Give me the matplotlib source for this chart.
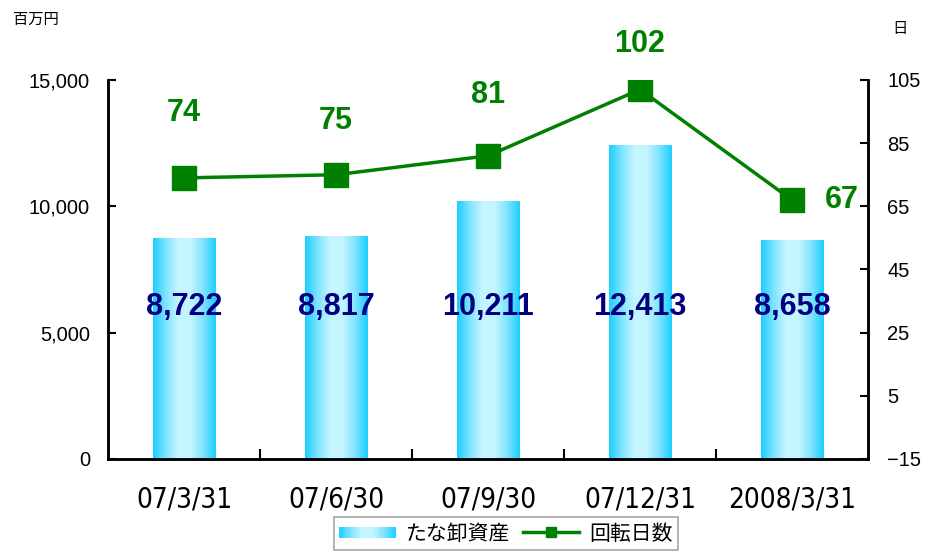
import numpy as np
import matplotlib
matplotlib.use('Agg')
import matplotlib.pyplot as plt
from matplotlib.legend_handler import HandlerPatch
from matplotlib.patches import Rectangle
from matplotlib.colors import LinearSegmentedColormap

plt.rcParams['font.family'] = ['Liberation Sans', 'Noto Sans CJK JP', 'DejaVu Sans']

# data
dates = ['07/3/31', '07/6/30', '07/9/30', '07/12/31', '2008/3/31']
inventory = [8722, 8817, 10211, 12413, 8658]      # 百万円
turnover_days = [74, 75, 81, 102, 67]               # 日
inv_label_y = 6000
# offset of the green labels (points): dx, dy
day_label_off = [(0, 47), (0, 39), (0, 44), (0, 33), (36, 0)]

jp = ['Noto Sans CJK JP', 'DejaVu Sans']
green = '#008000'
navy = '#000080'

grad = LinearSegmentedColormap.from_list('barg', ['#1ccfff', '#7fe3ff', '#c4f5ff', '#c4f5ff', '#7fe3ff', '#1ccfff'])


class GradHandler(HandlerPatch):
    def create_artists(self, legend, orig_handle, xdescent, ydescent, width, height, fontsize, trans):
        arts = []
        n = 24
        for i in range(n):
            c = grad((i + 0.5) / n)
            r = Rectangle((-xdescent + width * i / n, -ydescent + height * 0.1), width / n + 0.3, height * 0.8,
                          facecolor=c, edgecolor='none', transform=trans)
            arts.append(r)
        return arts


fig = plt.figure(figsize=(9.26, 5.54), dpi=100)
ax = fig.add_axes([0.1166, 0.1715, 0.8208, 0.6841])
ax2 = ax.twinx()

x = np.arange(len(dates))
bars = ax.bar(x, inventory, width=0.41, color='none', edgecolor='none', label='たな卸資産')
g = np.linspace(0, 1, 200).reshape(1, -1)
for b in bars:
    x0, w, h = b.get_x(), b.get_width(), b.get_height()
    ax.imshow(g, cmap=grad, extent=(x0, x0 + w, 0, h), aspect='auto', zorder=2)

for xi, v in zip(x, inventory):
    ax.text(xi, inv_label_y, f'{v:,}', ha='center', va='center', fontsize=22,
            fontweight='bold', color=navy, zorder=5)

ax.set_xlim(-0.5, 4.5)
ax.set_ylim(0, 15000)
ax.set_yticks([0, 5000, 10000, 15000])
ax.set_yticklabels([f'{t:,}' for t in [0, 5000, 10000, 15000]])
ax.set_xticks(x)
ax.set_xticklabels(dates, family='DejaVu Sans', stretch='condensed', fontsize=20)
ax.set_xticks(x[:-1] + 0.5, minor=True)
ax.tick_params(axis='x', which='major', length=0, pad=19)
ax.tick_params(axis='x', which='minor', direction='in', length=7, width=1.5)
ax.tick_params(axis='y', direction='in', length=6, width=1.5, labelsize=14.5, pad=13)

ln, = ax2.plot(x, turnover_days, color=green, lw=2.5, marker='s', ms=17, label='回転日数', zorder=4)
for xi, v, (dx, dy) in zip(x, turnover_days, day_label_off):
    ax2.annotate(str(v), (xi, v), xytext=(dx, dy), textcoords='offset points',
                 ha='center', va='center', fontsize=22, fontweight='bold', color=green)
ax2.set_ylim(-15, 105)
ax2.set_yticks(np.arange(-15, 106, 20))
ax2.set_yticklabels([str(t).replace('-', '\u2212') for t in range(-15, 106, 20)])
ax2.tick_params(axis='y', direction='in', length=6, width=1.5, labelsize=14.5, pad=14)

for a in (ax, ax2):
    for s in a.spines.values():
        s.set_linewidth(1.8)
    a.spines['top'].set_visible(False)
ax.set_zorder(1)
ax.patch.set_visible(False)
ax2.set_zorder(2)

fig.text(0.014, 0.965, '百万円', family=jp, fontsize=11, va='center', ha='left')
fig.text(0.964, 0.948, '日', family=jp, fontsize=11, va='center', ha='left')

leg = fig.legend([bars.patches[0], ln], ['たな卸資産', '回転日数'],
                 handler_map={bars.patches[0]: GradHandler()},
                 loc='upper center', bbox_to_anchor=(0.5465, 0.066), ncol=2,
                 frameon=True, fancybox=False, prop={'family': jp, 'size': 15},
                 handlelength=2.7, handletextpad=0.5, columnspacing=0.6, markerscale=0.45,
                 borderpad=0.25, borderaxespad=0)
leg.get_frame().set_edgecolor('#909090')
leg.get_frame().set_linewidth(1.2)

fig.savefig('out.png', dpi=100)
